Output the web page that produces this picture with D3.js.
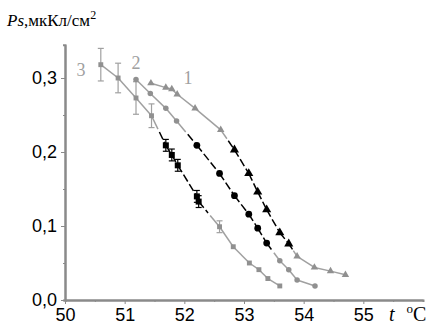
<!DOCTYPE html>
<html lang="ru">
<head>
    <meta charset="UTF-8">
    <title>Ps(t)</title>
    <script src="https://d3js.org/d3.v7.min.js"></script>
</head>
<style>
    body { margin: 0; background: #fff; }
    .tick text { font-family: "Liberation Sans", Arial, sans-serif; font-size: 18px; fill: #000; }
    .axis path, .axis line { stroke: #8a8a8a; }
</style>
<body>
<script>

    // curve 1 (triangles)
    var s1T = [51.44, 51.69, 51.79, 51.88, 52.18, 52.61, 52.84, 53.08, 53.23, 53.38, 53.60, 53.75, 53.89, 54.18, 54.45, 54.70];
    var s1P = [0.293, 0.287, 0.285, 0.278, 0.259, 0.230, 0.203, 0.171, 0.146, 0.122, 0.091, 0.076, 0.059, 0.044, 0.039, 0.034];
    var s1Dark = [0, 0, 0, 0, 0, 0, 1, 1, 1, 1, 1, 1, 0, 0, 0, 0];

    // curve 2 (circles)
    var s2T = [51.19, 51.43, 51.69, 51.87, 52.21, 52.59, 52.84, 53.08, 53.23, 53.38, 53.60, 53.75, 53.89, 54.19];
    var s2P = [0.298, 0.279, 0.259, 0.242, 0.209, 0.171, 0.141, 0.116, 0.097, 0.077, 0.053, 0.041, 0.027, 0.019];
    var s2Dark = [0, 0, 0, 0, 1, 1, 1, 1, 1, 1, 0, 0, 0, 0];

    // curve 3 (squares, with error bars)
    var s3T = [50.60, 50.89, 51.19, 51.45, 51.69, 51.79, 51.89, 52.21, 52.24, 52.59, 52.82, 53.09, 53.25, 53.40, 53.60];
    var s3P = [0.318, 0.300, 0.273, 0.249, 0.209, 0.196, 0.182, 0.140, 0.133, 0.099, 0.072, 0.050, 0.041, 0.029, 0.019];
    var s3Err = [0.022, 0.020, 0.022, 0.016, 0.008, 0.008, 0.008, 0.008, 0.008, 0.008, 0, 0, 0, 0, 0];
    var s3Dark = [0, 0, 0, 0, 1, 1, 1, 1, 1, 0, 0, 0, 0, 0, 0];

    var xTicks = [50, 51, 52, 53, 54, 55];
    var yTicks = [0, 0.1, 0.2, 0.3];
    var curveLabels = ["1", "2", "3"];

    var width = 438, height = 325;
    var grey = "#a0a0a0", black = "#000";

    var svg = d3.select("body").append("svg")
        .attr("width", width)
        .attr("height", height);

    var x = d3.scaleLinear().domain([50, 56]).range([65, 423]);
    var y = d3.scaleLinear().domain([0, 0.345]).range([300, 44.7]);

    // minor ticks first, then main axes on top
    svg.append("g")
        .attr("class", "axis")
        .attr("transform", "translate(0," + y(0) + ")")
        .call(d3.axisBottom(x).tickValues(d3.range(50.5, 56, 1)).tickSize(2).tickFormat(""));
    svg.append("g")
        .attr("class", "axis")
        .attr("transform", "translate(" + x(50) + ",0)")
        .call(d3.axisLeft(y).tickValues([0.05, 0.15, 0.25]).tickSize(2).tickFormat(""));

    var comma = function(d) { return d3.format(".1f")(d).replace(".", ","); };

    var xAxis = svg.append("g")
        .attr("class", "axis")
        .attr("transform", "translate(0," + y(0) + ")")
        .call(d3.axisBottom(x).tickValues(xTicks).tickSize(4).tickSizeOuter(0).tickPadding(4).tickFormat(d3.format("d")));
    var yAxis = svg.append("g")
        .attr("class", "axis")
        .attr("transform", "translate(" + x(50) + ",0)")
        .call(d3.axisLeft(y).tickValues(yTicks).tickSize(4).tickSizeOuter(0).tickPadding(4).tickFormat(comma));
    svg.selectAll(".axis path").attr("stroke-width", 2);

    // draw one curve: grey parts solid, dark parts dashed; transitions split in the middle
    function drawCurve(ts, ps, dark, shape, errs) {
        var pts = ts.map(function(t, i) { return {x: x(t), y: y(ps[i]), dark: dark[i], err: errs ? errs[i] : 0, p: ps[i]}; });
        var segs = [];
        for (var i = 0; i < pts.length - 1; i++) {
            var a = pts[i], b = pts[i + 1];
            if (a.dark == b.dark) {
                segs.push({x1: a.x, y1: a.y, x2: b.x, y2: b.y, dark: a.dark});
            } else {
                var f1 = 0.45, f2 = 0.55;
                segs.push({x1: a.x, y1: a.y, x2: a.x + (b.x - a.x) * f1, y2: a.y + (b.y - a.y) * f1, dark: a.dark});
                segs.push({x1: a.x + (b.x - a.x) * f2, y1: a.y + (b.y - a.y) * f2, x2: b.x, y2: b.y, dark: b.dark});
            }
        }
        var g = svg.append("g");
        g.selectAll("line.seg")
            .data(segs)
            .enter()
            .append("line")
            .attr("class", "seg")
            .attr("x1", function(d) { return d.x1; })
            .attr("y1", function(d) { return d.y1; })
            .attr("x2", function(d) { return d.x2; })
            .attr("y2", function(d) { return d.y2; })
            .attr("stroke", function(d) { return d.dark ? black : grey; })
            .attr("stroke-width", 1.5)
            .attr("stroke-dasharray", function(d) { return d.dark ? "8,3" : null; });

        // error bars
        var eb = g.selectAll("g.err")
            .data(pts.filter(function(d) { return d.err > 0; }))
            .enter()
            .append("g")
            .attr("class", "err")
            .attr("stroke", function(d) { return d.dark ? black : grey; })
            .attr("stroke-width", 1.2);
        eb.append("line")
            .attr("x1", function(d) { return d.x; })
            .attr("x2", function(d) { return d.x; })
            .attr("y1", function(d) { return y(d.p + d.err); })
            .attr("y2", function(d) { return y(d.p - d.err); });
        eb.append("line")
            .attr("x1", function(d) { return d.x - 3; })
            .attr("x2", function(d) { return d.x + 3; })
            .attr("y1", function(d) { return y(d.p + d.err); })
            .attr("y2", function(d) { return y(d.p + d.err); });
        eb.append("line")
            .attr("x1", function(d) { return d.x - 3; })
            .attr("x2", function(d) { return d.x + 3; })
            .attr("y1", function(d) { return y(d.p - d.err); })
            .attr("y2", function(d) { return y(d.p - d.err); });

        g.selectAll("path.mark")
            .data(pts)
            .enter()
            .append("path")
            .attr("class", "mark")
            .attr("transform", function(d) { return "translate(" + d.x + "," + d.y + ")"; })
            .attr("d", function(d) { return d3.symbol().type(shape).size(d.dark ? 36 : 24)(); })
            .attr("fill", function(d) { return d.dark ? black : "#909090"; });
    }

    drawCurve(s3T, s3P, s3Dark, d3.symbolSquare, s3Err);
    drawCurve(s2T, s2P, s2Dark, d3.symbolCircle);
    drawCurve(s1T, s1P, s1Dark, d3.symbolTriangle);

    // curve numbers
    var labelPos = [[188, 84], [136, 69], [81, 76]];
    svg.selectAll("text.cl")
        .data(curveLabels)
        .enter()
        .append("text")
        .attr("class", "cl")
        .attr("x", function(d, i) { return labelPos[i][0]; })
        .attr("y", function(d, i) { return labelPos[i][1]; })
        .attr("text-anchor", "middle")
        .attr("font-family", "Liberation Serif, serif")
        .attr("font-size", 18)
        .attr("fill", grey)
        .text(function(d) { return d; });

    // axis titles
    var yt = svg.append("text")
        .attr("x", 7)
        .attr("y", 26)
        .attr("font-family", "Liberation Serif, serif")
        .attr("font-size", 17);
    yt.append("tspan").attr("font-style", "italic").text("Ps");
    yt.append("tspan").text(",мкКл/см");
    yt.append("tspan").attr("dy", -7).attr("font-size", 12).text("2");

    var xt = svg.append("text")
        .attr("x", 389)
        .attr("y", 321)
        .attr("font-family", "Liberation Serif, serif")
        .attr("font-size", 20);
    xt.append("tspan").attr("font-style", "italic").text("t");
    xt.append("tspan").attr("dx", 12).attr("dy", -8).attr("font-size", 13).text("o");
    xt.append("tspan").attr("dy", 8).text("C");

</script>
</body>
</html>
